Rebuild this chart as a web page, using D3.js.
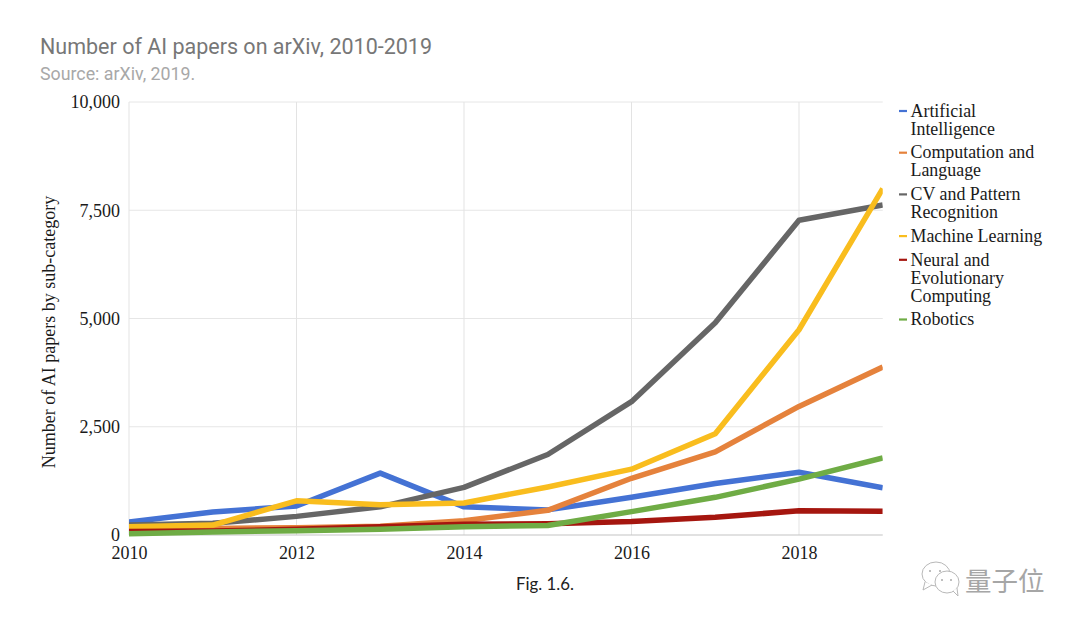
<!DOCTYPE html>
<html>
<head>
<meta charset="utf-8">
<script src="https://cdn.jsdelivr.net/npm/d3@7"></script>
<style>
  html, body { margin: 0; padding: 0; background: #fff; }
  svg { display: block; }
  .serif { font-family: "Liberation Serif", serif; fill: #1a1a1a; }
</style>
</head>
<body>
<div id="chart"></div>
<script>
const years = [2010, 2011, 2012, 2013, 2014, 2015, 2016, 2017, 2018, 2019];
const xTicks = [2010, 2012, 2014, 2016, 2018];
const yTicks = [0, 2500, 5000, 7500, 10000];

const ai = [300, 530, 670, 1430, 650, 580, 870, 1190, 1450, 1090];
const compLang = [130, 150, 170, 200, 330, 570, 1310, 1920, 2970, 3880];
const cvPattern = [230, 270, 430, 650, 1100, 1860, 3080, 4900, 7270, 7620];
const machineLearning = [190, 230, 790, 700, 740, 1110, 1520, 2340, 4740, 8000];
const neural = [80, 90, 130, 190, 250, 260, 310, 410, 560, 550];
const robotics = [30, 70, 100, 130, 190, 220, 540, 870, 1290, 1780];

const seriesNames = [
  ["Artificial", "Intelligence"],
  ["Computation and", "Language"],
  ["CV and Pattern", "Recognition"],
  ["Machine Learning"],
  ["Neural and", "Evolutionary", "Computing"],
  ["Robotics"]
];
const seriesValues = [ai, compLang, cvPattern, machineLearning, neural, robotics];
const seriesColors = ["#4472d4", "#e5823c", "#666666", "#f9bd1e", "#a5160f", "#6fac45"];

const svg = d3.select("#chart").append("svg")
  .attr("width", 1080)
  .attr("height", 630);

const x = d3.scaleLinear().domain([2010, 2019]).range([129, 882.75]);
const y = d3.scaleLinear().domain([0, 10000]).range([535, 102]);

svg.append("text").attr("x", 40).attr("y", 54)
  .attr("font-family", "Roboto").attr("font-size", 21.5).attr("fill", "#777")
  .text("Number of AI papers on arXiv, 2010-2019");
svg.append("text").attr("x", 40).attr("y", 80)
  .attr("font-family", "Roboto").attr("font-size", 17.8).attr("fill", "#a8a8a8")
  .text("Source: arXiv, 2019.");

// grid
svg.append("g").selectAll("line").data(yTicks.slice(1)).enter().append("line")
  .attr("x1", x(2010)).attr("x2", x(2019))
  .attr("y1", d => y(d)).attr("y2", d => y(d))
  .attr("stroke", "#e6e6e6");
svg.append("g").selectAll("line").data(xTicks).enter().append("line")
  .attr("x1", d => x(d)).attr("x2", d => x(d))
  .attr("y1", y(10000)).attr("y2", y(0))
  .attr("stroke", "#e3e3e3");
svg.append("line")
  .attr("x1", x(2010)).attr("x2", x(2019))
  .attr("y1", y(0)).attr("y2", y(0))
  .attr("stroke", "#c4c4c4").attr("stroke-width", 1.2);

// axes, only the labels are kept
const xAxis = svg.append("g").attr("transform", "translate(0," + y(0) + ")")
  .call(d3.axisBottom(x).tickValues(xTicks).tickFormat(d3.format("d")).tickSize(0).tickPadding(11));
const yAxis = svg.append("g").attr("transform", "translate(" + x(2010) + ",0)")
  .call(d3.axisLeft(y).tickValues(yTicks).tickFormat(d3.format(",")).tickSize(0).tickPadding(9));
xAxis.select(".domain").remove();
yAxis.select(".domain").remove();
svg.selectAll(".tick text")
  .attr("class", "serif")
  .attr("font-family", "Liberation Serif")
  .attr("font-size", 18);

svg.append("text")
  .attr("class", "serif")
  .attr("transform", "translate(55,332) rotate(-90)")
  .attr("text-anchor", "middle")
  .attr("font-size", 18)
  .text("Number of AI papers by sub-category");

// series lines
svg.append("clipPath").attr("id", "plot").append("rect")
  .attr("x", x(2010)).attr("y", y(10000))
  .attr("width", x(2019) - x(2010)).attr("height", y(0) - y(10000) + 2);

const line = d3.line().x((d, i) => x(years[i])).y(d => y(d));
svg.append("g").attr("clip-path", "url(#plot)")
  .selectAll("path").data(seriesValues).enter().append("path")
  .attr("d", line)
  .attr("fill", "none")
  .attr("stroke", (d, i) => seriesColors[i])
  .attr("stroke-width", 5.5)
  .attr("stroke-linejoin", "round");

// legend
const lineStep = 18;
let legendY = 116.7;
seriesNames.forEach((lines, i) => {
  svg.append("line")
    .attr("x1", 899).attr("x2", 907)
    .attr("y1", legendY - 5.7).attr("y2", legendY - 5.7)
    .attr("stroke", seriesColors[i]).attr("stroke-width", 2.2);
  lines.forEach((t, j) => {
    svg.append("text")
      .attr("class", "serif")
      .attr("x", 910.5).attr("y", legendY + j * lineStep)
      .attr("font-size", 17.9)
      .text(t);
  });
  legendY += lines.length * lineStep + 5.7;
});

svg.append("text").attr("x", 516).attr("y", 590)
  .attr("font-family", "Lato").attr("font-size", 16.8).attr("fill", "#222")
  .text("Fig. 1.6.");

// watermark
const mark = svg.append("g").attr("fill", "#fff").attr("stroke", "#b8b8b8").attr("stroke-width", 1);
mark.append("ellipse").attr("cx", 936).attr("cy", 574).attr("rx", 14).attr("ry", 12);
mark.append("path").attr("d", "M925 582 L923 590 L932 585");
mark.append("ellipse").attr("cx", 947).attr("cy", 582).attr("rx", 12).attr("ry", 11);
mark.append("path").attr("d", "M953 591 L958 596 L957 588");
mark.selectAll("circle").data([[930, 571], [940, 571], [942, 580], [951, 580]]).enter().append("circle")
  .attr("cx", d => d[0]).attr("cy", d => d[1]).attr("r", 1).attr("fill", "#aaa").attr("stroke", "none");
svg.append("text").attr("x", 965).attr("y", 591)
  .attr("font-family", "Noto Sans CJK SC").attr("font-size", 26.5).attr("fill", "#a6a6a6")
  .text("量子位");
</script>
</body>
</html>
